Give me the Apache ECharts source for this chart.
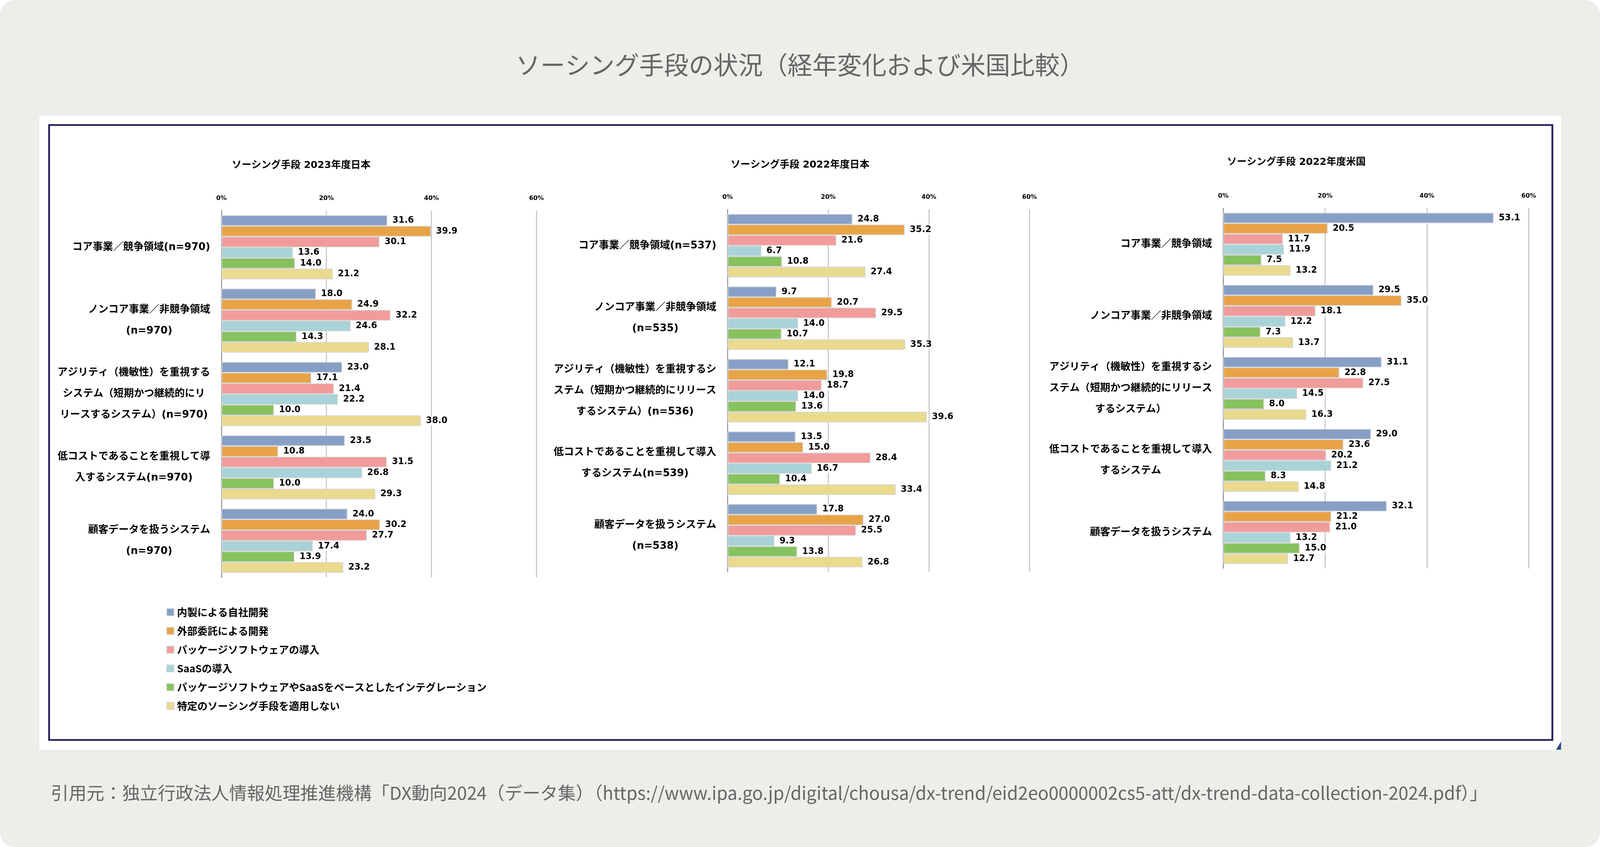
<!DOCTYPE html>
<html>
<head>
<meta charset="utf-8">
<script src="https://cdn.jsdelivr.net/npm/echarts@6/dist/echarts.min.js"></script>
<style>
html,body{margin:0;padding:0;background:#fff;overflow:hidden;width:100%;height:100%;}
#chart{width:100vw;height:100vh;}
</style>
</head>
<body>
<div id="chart"></div>
<script>
// ---- data ----
const seriesNames = ['内製による自社開発','外部委託による開発','パッケージソフトウェアの導入','SaaSの導入','パッケージソフトウェアやSaaSをベースとしたインテグレーション','特定のソーシング手段を適用しない'];
const seriesColors = ['#869fc6','#e8a347','#f29b9b','#a8d3d9','#86c25e','#eada8e'];
const axisTicks = [0, 20, 40, 60];

const chartTitles = ['ソーシング手段 2023年度日本','ソーシング手段 2022年度日本','ソーシング手段 2022年度米国'];

const categoriesJp2023 = ['コア事業／競争領域(n=970)','ノンコア事業／非競争領域\n(n=970)','アジリティ（機敏性）を重視する\nシステム（短期かつ継続的にリ\nリースするシステム）(n=970)','低コストであることを重視して導\n入するシステム(n=970)','顧客データを扱うシステム\n(n=970)'];
const categoriesJp2022 = ['コア事業／競争領域(n=537)','ノンコア事業／非競争領域\n(n=535)','アジリティ（機敏性）を重視するシ\nステム（短期かつ継続的にリリース\nするシステム）(n=536)','低コストであることを重視して導入\nするシステム(n=539)','顧客データを扱うシステム\n(n=538)'];
const categoriesUs2022 = ['コア事業／競争領域','ノンコア事業／非競争領域','アジリティ（機敏性）を重視するシ\nステム（短期かつ継続的にリリース\nするシステム）','低コストであることを重視して導入\nするシステム','顧客データを扱うシステム'];

const jp2023Inhouse   = [31.6, 18.0, 23.0, 23.5, 24.0];
const jp2023Outsource = [39.9, 24.9, 17.1, 10.8, 30.2];
const jp2023Package   = [30.1, 32.2, 21.4, 31.5, 27.7];
const jp2023Saas      = [13.6, 24.6, 22.2, 26.8, 17.4];
const jp2023Integ     = [14.0, 14.3, 10.0, 10.0, 13.9];
const jp2023None      = [21.2, 28.1, 38.0, 29.3, 23.2];

const jp2022Inhouse   = [24.8, 9.7, 12.1, 13.5, 17.8];
const jp2022Outsource = [35.2, 20.7, 19.8, 15.0, 27.0];
const jp2022Package   = [21.6, 29.5, 18.7, 28.4, 25.5];
const jp2022Saas      = [6.7, 14.0, 14.0, 16.7, 9.3];
const jp2022Integ     = [10.8, 10.7, 13.6, 10.4, 13.8];
const jp2022None      = [27.4, 35.3, 39.6, 33.4, 26.8];

const us2022Inhouse   = [53.1, 29.5, 31.1, 29.0, 32.1];
const us2022Outsource = [20.5, 35.0, 22.8, 23.6, 21.2];
const us2022Package   = [11.7, 18.1, 27.5, 20.2, 21.0];
const us2022Saas      = [11.9, 12.2, 14.5, 21.2, 13.2];
const us2022Integ     = [7.5, 7.3, 8.0, 8.3, 15.0];
const us2022None      = [13.2, 13.7, 16.3, 14.8, 12.7];

const mainTitle = 'ソーシング手段の状況（経年変化および米国比較）';
const sourceText = '引用元：独立行政法人情報処理推進機構「DX動向2024（データ集）（https://www.ipa.go.jp/digital/chousa/dx-trend/eid2eo0000002cs5-att/dx-trend-data-collection-2024.pdf）」';

// ---- layout: design space 4400 x 2168 mapped onto the real viewport ----
const DW = 4400, DH = 2168;
const el = document.getElementById('chart');
const VW = el.clientWidth || window.innerWidth || DW;
const VH = el.clientHeight || window.innerHeight || DH;
const sx = VW / DW, sy = VH / DH;
const X = v => v * sx, Y = v => v * sy, F = v => v * sx;

const FONT = '"Noto Sans CJK JP", "Noto Sans", sans-serif';
const MIXFONT = '"DejaVu Sans", "Noto Sans CJK JP", sans-serif';
const panels = [
  { cats: categoriesJp2023, vals: [jp2023Inhouse, jp2023Outsource, jp2023Package, jp2023Saas, jp2023Integ, jp2023None],
    grid: [609, 539, 866, 939], titleX: 828, titleY: 423 },
  { cats: categoriesJp2022, vals: [jp2022Inhouse, jp2022Outsource, jp2022Package, jp2022Saas, jp2022Integ, jp2022None],
    grid: [2001, 536, 830, 928], titleX: 2200, titleY: 422 },
  { cats: categoriesUs2022, vals: [us2022Inhouse, us2022Outsource, us2022Package, us2022Saas, us2022Integ, us2022None],
    grid: [3364, 533, 840, 922], titleX: 3565, titleY: 415 }
];

const grids = [], xAxes = [], yAxes = [], series = [];
panels.forEach((p, gi) => {
  grids.push({ left: X(p.grid[0]), top: Y(p.grid[1]), width: X(p.grid[2]), height: Y(p.grid[3]), containLabel: false });
  xAxes.push({
    type: 'value', gridIndex: gi, position: 'top',
    min: axisTicks[0], max: axisTicks[axisTicks.length - 1], interval: axisTicks[1] - axisTicks[0],
    axisLine: { show: false }, axisTick: { show: false },
    axisLabel: { formatter: '{value}%', fontSize: F(17), fontWeight: 'bold', color: '#000', fontFamily: MIXFONT, margin: Y(23) },
    splitLine: { show: true, lineStyle: { color: '#c6c6c6', width: X(3) } }
  });
  yAxes.push({
    type: 'category', gridIndex: gi, inverse: true, data: p.cats,
    axisLine: { show: true, lineStyle: { color: '#8a8a8a', width: X(2) } },
    axisTick: { show: false },
    axisLabel: {
      margin: X(31),
      formatter: v => v.split('\n').map(l => '{c|' + l + '}').join('\n'),
      rich: { c: { align: 'center', fontSize: F(28), fontWeight: 'bold', color: '#000', fontFamily: MIXFONT, lineHeight: Y(54) } }
    }
  });
  p.vals.forEach((arr, si) => {
    series.push({
      type: 'bar', name: seriesNames[si], xAxisIndex: gi, yAxisIndex: gi,
      data: arr,
      barGap: '0%', barCategoryGap: '12.6%',
      itemStyle: { color: seriesColors[si], borderColor: '#d6d6d6', borderWidth: X(2) },
      label: {
        show: true, position: 'right', distance: X(10),
        formatter: q => Number(q.value).toFixed(1),
        fontSize: F(24), fontWeight: 'bold', color: '#000', fontFamily: MIXFONT,
        backgroundColor: '#fff', padding: [Y(1), X(4)]
      },
      emphasis: { disabled: true }
    });
  });
});

const graphics = [
  { type: 'rect', z: -10, shape: { x: 0, y: 0, width: X(4400), height: Y(2168), r: X(40) }, style: { fill: '#eeede9' } },
  { type: 'rect', z: -9, shape: { x: X(108), y: Y(297), width: X(4185), height: Y(1622) }, style: { fill: '#ffffff' } },
  { type: 'rect', z: -8, shape: { x: X(135), y: Y(320), width: X(4134), height: Y(1574) }, style: { fill: 'none', stroke: '#22225a', lineWidth: X(5) } },
  { type: 'polygon', z: -8, shape: { points: [[X(4293), Y(1898)], [X(4293), Y(1919)], [X(4279), Y(1919)]] }, style: { fill: '#2c4b7c' } },
  { type: 'text', z: 50, style: { text: mainTitle, x: X(2200), y: Y(166), align: 'center', verticalAlign: 'middle', fontSize: F(68), fontFamily: FONT, fontWeight: 'normal', fill: '#666666' } },
  { type: 'text', z: 50, style: { text: sourceText, x: X(140), y: Y(2030), align: 'left', verticalAlign: 'middle', fontSize: F(49), fontFamily: FONT, fontWeight: 'normal', fill: '#666666' } }
];
panels.forEach((p, gi) => {
  graphics.push({ type: 'text', z: 50, style: { text: chartTitles[gi], x: X(p.titleX), y: Y(p.titleY), align: 'center', verticalAlign: 'middle', fontSize: F(27), fontFamily: MIXFONT, fontWeight: 'bold', fill: '#000' } });
});

const chart = echarts.init(el, null, { renderer: 'canvas' });
chart.setOption({
  backgroundColor: '#ffffff',
  animation: false,
  textStyle: { fontFamily: FONT },
  grid: grids, xAxis: xAxes, yAxis: yAxes, series: series,
  legend: {
    data: seriesNames, orient: 'vertical', left: X(452), top: Y(1549),
    itemWidth: X(20), itemHeight: X(20), itemGap: Y(47.5) - F(28) * 0.98, icon: 'rect', selectedMode: false,
    textStyle: { fontSize: F(28), fontWeight: 'bold', color: '#000', fontFamily: FONT, padding: [0, 0, 0, X(3)] }
  },
  graphic: graphics
});
</script>
</body>
</html>
